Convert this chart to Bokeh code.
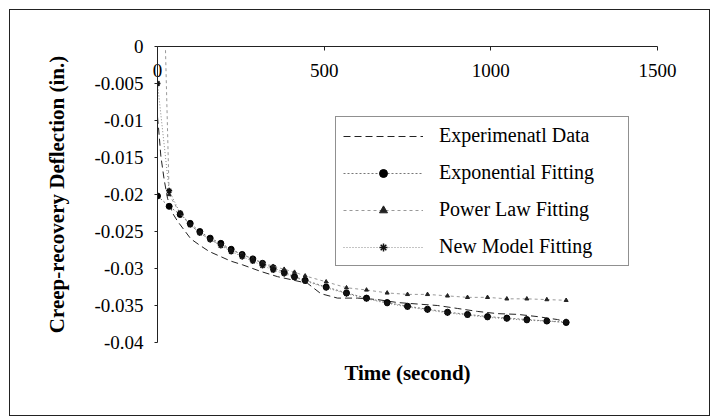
from bokeh.plotting import figure
from bokeh.models import (Range1d, FixedTicker, NumeralTickFormatter, Legend, LegendItem, Title)
from bokeh.embed import file_html
from bokeh.resources import INLINE

# ---------------- data ----------------
t_exp = [0, 5, 10, 20, 30, 45, 60, 80, 100, 125, 155, 190, 220, 255, 310, 360, 410, 450,
         490, 540, 600, 660, 720, 780, 840, 900, 960, 1020, 1080, 1140, 1200, 1226]
v_exp = [-0.0095, -0.0120, -0.0148, -0.0180, -0.0205, -0.0225, -0.0236, -0.0248, -0.0260,
         -0.0268, -0.0277, -0.0284, -0.0290, -0.0295, -0.0304, -0.0311, -0.0316, -0.0320,
         -0.0334, -0.0340, -0.0340, -0.0342, -0.0346, -0.0348, -0.0350, -0.0354, -0.0358,
         -0.0361, -0.0362, -0.0365, -0.0369, -0.0372]

t_fit = [0, 35, 68, 98, 127, 158, 190, 221, 254, 286, 315, 347, 380, 411, 443, 506, 567,
         627, 689, 750, 810, 870, 930, 990, 1048, 1108, 1168, 1226]
v_expo = [-0.0202, -0.0216, -0.0227, -0.0239, -0.0250, -0.0259, -0.0266, -0.0274, -0.0281,
          -0.0287, -0.0293, -0.0299, -0.0305, -0.0311, -0.0316, -0.0325, -0.0333, -0.0340,
          -0.0346, -0.0351, -0.0355, -0.0359, -0.0362, -0.0365, -0.0367, -0.0369, -0.0371,
          -0.0373]
v_new = [-0.0050, -0.0195, -0.0225, -0.0241, -0.0252, -0.0261, -0.0269, -0.0277, -0.0284,
         -0.0290, -0.0296, -0.0302, -0.0307, -0.0312, -0.0317, -0.0326, -0.0334, -0.0341,
         -0.0347, -0.0352, -0.0356, -0.0360, -0.0363, -0.0366, -0.0368, -0.0370, -0.0371,
         -0.0372]

t_pow = [24, 35, 68, 98, 127, 158, 190, 221, 254, 286, 315, 347, 380, 411, 443, 506, 567,
         627, 689, 750, 810, 870, 930, 990, 1048, 1108, 1168, 1226]
v_pow = [-0.0005, -0.0200, -0.0226, -0.0241, -0.0252, -0.0261, -0.0268, -0.0275, -0.0281,
         -0.0287, -0.0292, -0.0297, -0.0301, -0.0305, -0.0310, -0.0318, -0.0326, -0.0329,
         -0.0333, -0.0335, -0.0335, -0.0337, -0.0339, -0.0339, -0.0341, -0.0341, -0.0342,
         -0.0343]

x_ticks = [0, 500, 1000, 1500]
y_ticks = [0, -0.005, -0.01, -0.015, -0.02, -0.025, -0.03, -0.035, -0.04]

series_names = ["Experimenatl Data", "Exponential Fitting", "Power Law Fitting", "New Model Fitting"]
x_title = "Time (second)"
y_title = "Creep-recovery Deflection (in.)"

FONT = "Liberation Serif"

# ---------------- figure ----------------
p = figure(width=701, height=407, x_range=Range1d(0, 1500), y_range=Range1d(-0.04, 0),
           x_axis_location="above", output_backend="svg", toolbar_location=None,
           min_border_left=147, min_border_top=36, min_border_right=54, min_border_bottom=75)
p.styles = {"border": "1px solid #222", "box-sizing": "border-box",
            "margin-left": "9px", "margin-top": "9px"}
p.outline_line_color = None
p.grid.visible = False
p.background_fill_color = "white"
p.border_fill_color = "white"

# top x axis: labels pushed down below the axis line, inside the plot
xa = p.xaxis[0]
xa.ticker = FixedTicker(ticks=x_ticks)
xa.major_tick_in = 4
xa.major_tick_out = 0
xa.minor_tick_line_color = None
xa.axis_line_color = "#222"
xa.major_tick_line_color = "#222"
xa.major_label_text_font = FONT
xa.major_label_text_font_size = "19px"
xa.major_label_text_color = "black"
xa.major_label_standoff = -30

ya = p.yaxis[0]
ya.ticker = FixedTicker(ticks=y_ticks)
ya.formatter = NumeralTickFormatter(format="0.[000]")
ya.major_tick_in = 0
ya.major_tick_out = 3
ya.minor_tick_line_color = None
ya.axis_line_color = "#222"
ya.major_tick_line_color = "#222"
ya.major_label_text_font = FONT
ya.major_label_text_font_size = "19px"
ya.major_label_text_color = "black"
ya.major_label_standoff = 11
ya.axis_label = y_title
ya.axis_label_text_font = FONT
ya.axis_label_text_font_size = "21px"
ya.axis_label_text_font_style = "bold"
ya.axis_label_text_color = "black"
ya.axis_label_standoff = 22

p.add_layout(Title(text=x_title, align="center", text_font=FONT, text_font_size="21px",
                   text_font_style="bold", text_color="black", standoff=32), "below")

# ---------------- series ----------------
r_exp = p.line(t_exp, v_exp, line_color="#222", line_width=1, line_dash="7 4")

l_expo = p.line(t_fit, v_expo, line_color="#777", line_width=1, line_dash="2 2")
m_expo = p.scatter(t_fit, v_expo, marker="circle", size=6, fill_color="black", line_color="black")

l_pow = p.line(t_pow, v_pow, line_color="#999", line_width=1, line_dash="3 3")
m_pow = p.scatter(t_pow[1:], v_pow[1:], marker="triangle", size=4, fill_color="#222", line_color="#222")

l_new = p.line(t_fit, v_new, line_color="#888", line_width=1, line_dash="1 2")
m_new = p.scatter(t_fit, v_new, marker="asterisk", size=6, line_color="#111", line_width=1.5)

legend = Legend(items=[
    LegendItem(label=series_names[0], renderers=[r_exp]),
    LegendItem(label=series_names[1], renderers=[l_expo, m_expo]),
    LegendItem(label=series_names[2], renderers=[l_pow, m_pow]),
    LegendItem(label=series_names[3], renderers=[l_new, m_new]),
], location=(178, 76), padding=7, spacing=14, glyph_width=80, glyph_height=20,
   label_height=20, label_standoff=16, label_width=182,
   label_text_font=FONT, label_text_font_size="20px", label_text_color="black",
   border_line_color="#222", border_line_width=1, background_fill_alpha=1,
   background_fill_color="white", margin=0)
p.add_layout(legend, "center")

open("out.html", "w").write(file_html(p, INLINE))
